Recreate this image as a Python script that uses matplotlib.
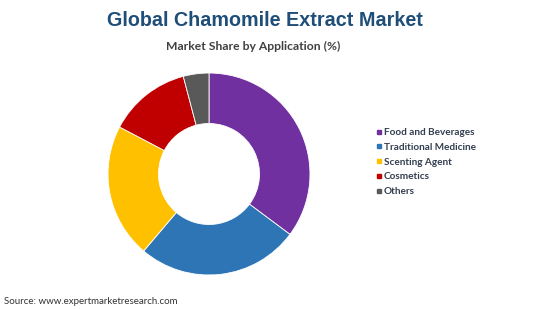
import numpy as np
import matplotlib.pyplot as plt
from matplotlib.lines import Line2D

# data
categories = ['Food and Beverages', 'Traditional Medicine', 'Scenting Agent', 'Cosmetics', 'Others']
shares = [35.2, 26.0, 21.5, 13.2, 4.1]
colors = ['#7030A0', '#2E75B6', '#FFC000', '#C00000', '#595959']

fig = plt.figure(figsize=(5.5, 3.09), dpi=100)

# donut: centre ~ (209, 174) px, outer radius ~101 px
ax = fig.add_axes([(209 - 103) / 550, 1 - (174 + 103) / 309, 206 / 550, 206 / 309])
ax.pie(shares, colors=colors, startangle=90, counterclock=False,
       radius=1.0, wedgeprops=dict(width=0.5, edgecolor='white', linewidth=0.6))
ax.set_xlim(-1.02, 1.02)
ax.set_ylim(-1.02, 1.02)
ax.set_aspect('equal')
ax.axis('off')

fig.text(265 / 550, 1 - 20 / 309, 'Global Chamomile Extract Market', ha='center', va='center',
         fontsize=14.2, fontweight='bold', color='#1F4E79', family='Liberation Sans')
fig.text(253 / 550, 1 - 46 / 309, 'Market Share by Application (%)', ha='center', va='center',
         fontsize=8.7, fontweight='bold', color='#404040', family='Lato')

# legend
handles = [Line2D([0], [0], marker='s', linestyle='none', markersize=3.5,
                  markerfacecolor=c, markeredgecolor=c) for c in colors]
leg = fig.legend(handles, categories, loc='upper left',
                 bbox_to_anchor=(366 / 550, 1 - 119 / 309), frameon=False,
                 handletextpad=0.1, handlelength=0.8, labelspacing=0.58,
                 prop=dict(family='Lato', weight='bold', size=7.2))
for t in leg.get_texts():
    t.set_color('#333F50')

fig.text(4 / 550, 1 - 301 / 309, 'Source: www.expertmarketresearch.com', ha='left', va='center',
         fontsize=7, color='#333333', family='Lato')

fig.savefig('out.png', dpi=100)
